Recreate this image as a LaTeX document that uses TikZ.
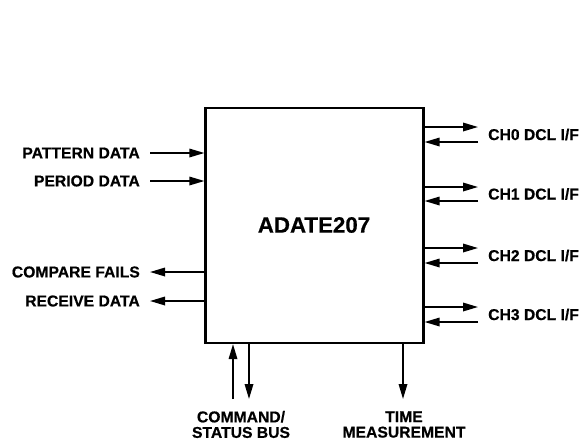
\documentclass[tikz,border=0pt]{standalone}
\usepackage{fontspec}
\setmainfont{Liberation Sans}[BoldFeatures={FakeBold=0.6}]
\usetikzlibrary{arrows.meta}
\begin{document}
\begin{tikzpicture}[x=1pt,y=-1pt,
  lbl/.style={font=\fontsize{15.7}{15.5}\selectfont\bfseries, inner sep=0pt},
  arr/.style={line width=1.7pt, -{Triangle[length=15pt,width=8.5pt]}},
  chipbox/.style={draw, line width=2.2pt, minimum width=218pt, minimum height=235pt, inner sep=0pt}]
\useasboundingbox (0,0) rectangle (584,440);
\node[chipbox] (chip) at (314.5,225.5) {};
\node[font=\fontsize{22.3}{22}\selectfont\bfseries] (title) at (314,225) {ADATE207};
% left
\node[lbl, anchor=east] (pat) at (140,153) {PATTERN DATA};
\node[lbl, anchor=east] (per) at (140,181) {PERIOD DATA};
\node[lbl, anchor=east] (cmp) at (140,272) {COMPARE FAILS};
\node[lbl, anchor=east] (rcv) at (140,301) {RECEIVE DATA};
\draw[arr] ([xshift=10pt]pat.east) -- (pat.east -| chip.west);
\draw[arr] ([xshift=10pt]per.east) -- (per.east -| chip.west);
\draw[arr] (cmp.east -| chip.west) -- ([xshift=10pt]cmp.east);
\draw[arr] (rcv.east -| chip.west) -- ([xshift=10pt]rcv.east);
% right
\foreach \i/\yo/\yi in {0/127/142, 1/187/201, 2/248/263, 3/307/322}{
  \node[lbl, anchor=west] (ch\i) at (488,{(\yo+\yi)/2}) {CH\i{} DCL I/F};
  \coordinate (o\i) at (478,\yo);
  \coordinate (n\i) at (478,\yi);
  \draw[arr] (o\i -| chip.east) -- (o\i);
  \draw[arr] (n\i) -- (n\i -| chip.east);
}
% bottom
\node[lbl, align=center] (cmd) at (241,424.5) {COMMAND/\\STATUS BUS};
\node[lbl, align=center] (tim) at (404,424.5) {TIME\\MEASUREMENT};
\coordinate (u) at (233,399);
\coordinate (d) at (249,399);
\coordinate (t) at (403,399);
\draw[arr] (u) -- (u |- chip.south);
\draw[arr] (d |- chip.south) -- (d);
\draw[arr] (t |- chip.south) -- (t);
\end{tikzpicture}
\end{document}
